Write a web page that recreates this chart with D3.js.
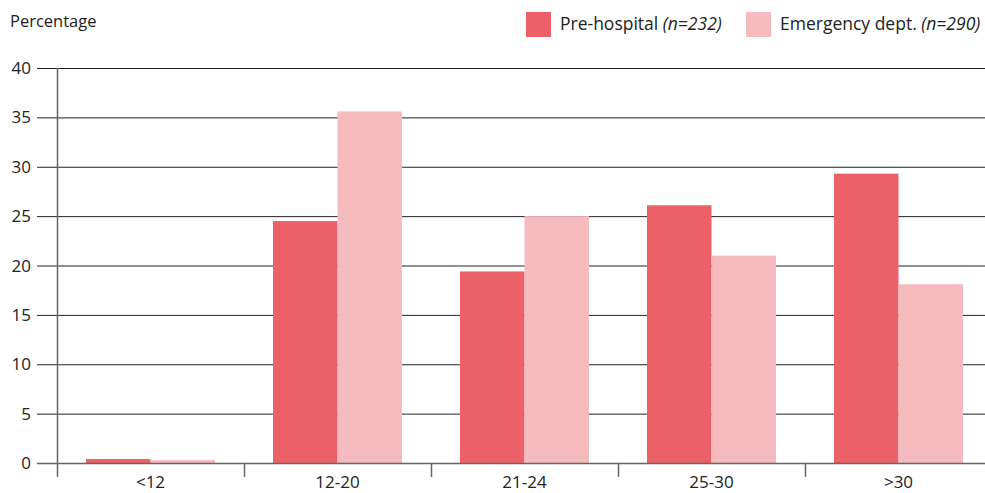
<!DOCTYPE html>
<html><head><meta charset="utf-8">
<script src="https://cdn.jsdelivr.net/npm/d3@7"></script>
<style>
body{margin:0;background:#fff;}
text{font-family:"Open Sans","Noto Sans",sans-serif;fill:#222;}
</style></head>
<body><svg id="c" width="985" height="493"></svg>
<script>
const categories = ["<12","12-20","21-24","25-30",">30"];
const seriesNames = ["Pre-hospital","Emergency dept."];
const seriesN = ["n=232","n=290"];
const preHospital = [0.4,24.5,19.4,26.1,29.3];
const emergency = [0.3,35.6,25.0,21.0,18.1];
const yTicks = [0,5,10,15,20,25,30,35,40];
const colors = ["#ec6068","#f6bbbe"];

(function(){
const svg = d3.select("#c");
const mLeft=57, mRight=992, mTop=68, mBottom=463;
const x = d3.scaleBand().domain(categories).range([mLeft,mRight]).paddingInner(0).paddingOuter(0);
const inner = d3.scaleBand().domain([0,1]).range([0,x.bandwidth()]).paddingOuter(0.45).paddingInner(0);
const y = d3.scaleLinear().domain([0,40]).range([mBottom,mTop]);

svg.append("g").selectAll("line").data(yTicks.filter(d=>d>0)).join("line")
  .attr("x1",37).attr("x2",985).attr("y1",d=>y(d)+0.5).attr("y2",d=>y(d)+0.5)
  .attr("stroke","#222").attr("stroke-width",1);
svg.append("g").selectAll("text").data(yTicks).join("text")
  .attr("x",31).attr("y",d=>y(d)).attr("dy","0.36em").attr("text-anchor","end")
  .attr("font-size",17).text(d=>d);

const data = [preHospital, emergency];
categories.forEach((c,i)=>{
  data.forEach((s,j)=>{
    svg.append("rect").attr("x",x(c)+inner(j)).attr("width",inner.bandwidth())
      .attr("y",y(s[i])).attr("height",y(0)-y(s[i])).attr("fill",colors[j]);
  });
});

svg.append("line").attr("x1",37).attr("x2",985).attr("y1",mBottom+0.5).attr("y2",mBottom+0.5).attr("stroke","#666").attr("stroke-width",1.5);
svg.append("line").attr("x1",mLeft+0.5).attr("x2",mLeft+0.5).attr("y1",mTop).attr("y2",477).attr("stroke","#666").attr("stroke-width",1.5);
svg.append("g").selectAll("line").data(categories.slice(1)).join("line")
  .attr("x1",d=>x(d)+0.5).attr("x2",d=>x(d)+0.5).attr("y1",mBottom).attr("y2",477)
  .attr("stroke","#666").attr("stroke-width",1.5);
svg.append("g").selectAll("text").data(categories).join("text")
  .attr("x",d=>x(d)+x.bandwidth()/2).attr("y",488).attr("text-anchor","middle")
  .attr("font-size",17).text(d=>d);

svg.append("text").attr("x",10).attr("y",27).attr("font-size",16.5).text("Percentage");

const legX = [526,746];
seriesNames.forEach((n,j)=>{
  svg.append("rect").attr("x",legX[j]).attr("y",12).attr("width",25).attr("height",25).attr("fill",colors[j]);
  const t = svg.append("text").attr("x",legX[j]+34).attr("y",30).attr("font-size",17.5);
  t.append("tspan").text(n+" ");
  t.append("tspan").attr("font-style","italic").text("("+seriesN[j]+")");
});
})();
</script></body></html>
